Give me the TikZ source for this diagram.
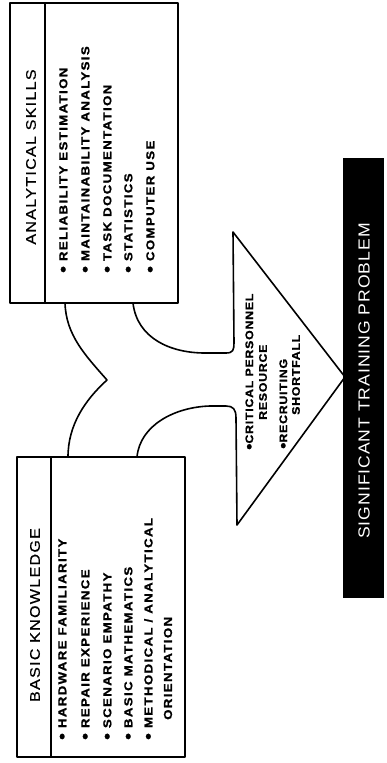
\documentclass[tikz,border=0pt]{standalone}
\usepackage{fontspec}
\usepackage{graphicx}
\setmainfont{Liberation Sans}
\newfontfamily\itemfont{Liberation Sans}[FakeStretch=1.15,LetterSpace=12,FakeBold=1.2]
\newfontfamily\arrfont{Liberation Sans}[FakeStretch=1.12,LetterSpace=7,FakeBold=1.2]
\newfontfamily\hdrfont{Liberation Sans}[FakeStretch=1.15,LetterSpace=9,FakeBold=0.6]
\newfontfamily\bigfont{Liberation Sans}[FakeStretch=1.1,LetterSpace=6]
\newcommand\mybul{\raisebox{-1.4pt}{\scalebox{1.45}{\textbullet}}}
\begin{document}
\begin{tikzpicture}[x=1pt,y=-1pt,
  outline/.style={draw=black, line width=1.6pt, line join=round},
  itm/.style={rotate=90, anchor=west, inner sep=0pt, font=\itemfont\bfseries\fontsize{11.5}{11.5}\selectfont},
  arr/.style={rotate=90, anchor=west, inner sep=0pt, font=\arrfont\bfseries\fontsize{11}{11}\selectfont},
  hdr/.style={rotate=90, anchor=center, inner sep=0pt, font=\hdrfont\fontsize{14}{14}\selectfont},
  banner/.style={rotate=90, anchor=center, inner sep=0pt, text=white, font=\bigfont\fontsize{16}{16}\selectfont}]
\useasboundingbox (0,0) rectangle (386,763);
% boxes
\coordinate (a1) at (10,3);   \coordinate (a2) at (178,303);
\coordinate (b1) at (17,457); \coordinate (b2) at (185,757);
\draw[outline] (a1) rectangle (a2);
\draw[outline] (45,3) -- (45,303);
\draw[outline] (b1) rectangle (b2);
\draw[outline] (51,457) -- (51,757);
% arrow outline
\draw[outline] (65,303) .. controls (66,335) and (85,355) .. (107,380)
  .. controls (85,400) and (68,425) .. (68,457);
\draw[outline] (133,303) .. controls (137,338) and (170,353) .. (205,353)
  -- (226,353) .. controls (233,353) and (234,350) .. (234,343)
  -- (233,232) -- (345,377) -- (237,525) -- (236,418)
  .. controls (236,409) and (233,406) .. (226,406)
  -- (210,406) .. controls (175,407) and (140,425) .. (137,457);
% banner
\fill[black] (343,158) rectangle (384,598);
\node[banner] (ban) at (364,381) {SIGNIFICANT TRAINING PROBLEM};
% analytical skills
\node[hdr] (ah) at (31,157) {ANALYTICAL SKILLS};
\node[itm] (a-i1) at (64,273) {\mybul\ RELIABILITY ESTIMATION};
\node[itm] (a-i2) at (86,273) {\mybul\ MAINTAINABILITY ANALYSIS};
\node[itm] (a-i3) at (108,273) {\mybul\ TASK DOCUMENTATION};
\node[itm] (a-i4) at (129,273) {\mybul\ STATISTICS};
\node[itm] (a-i5) at (151,273) {\mybul\ COMPUTER USE};
% basic knowledge
\node[hdr] (bh) at (35,615) {BASIC KNOWLEDGE};
\node[itm] (b-i1) at (63,740) {\mybul\ HARDWARE FAMILIARITY};
\node[itm] (b-i2) at (86,740) {\mybul\ REPAIR EXPERIENCE};
\node[itm] (b-i3) at (108,740) {\mybul\ SCENARIO EMPATHY};
\node[itm] (b-i4) at (129,740) {\mybul\ BASIC MATHEMATICS};
\node[itm] (b-i5) at (149,740) {\mybul\ METHODICAL / ANALYTICAL};
\node[itm] (b-i6) at (168,720) {ORIENTATION};
% arrow text
\node[arr] (t1) at (250,450) {\mybul CRITICAL PERSONNEL};
\node[arr] (t2) at (263,420) {RESOURCE};
\node[arr] (t3) at (284,449) {\mybul RECRUITING};
\node[arr] (t4) at (296,415) {SHORTFALL};
\end{tikzpicture}
\end{document}
